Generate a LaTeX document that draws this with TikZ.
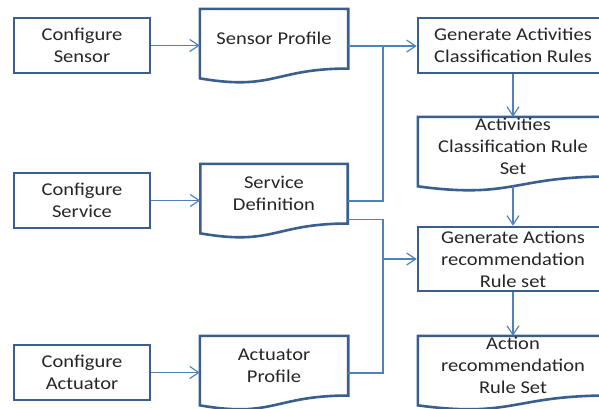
\documentclass[tikz,border=0pt]{standalone}
\usepackage{fontspec}
\setmainfont{Carlito}[FakeStretch=1.14]
\usetikzlibrary{arrows.meta,calc}
\definecolor{boxblue}{HTML}{3A5F8D}
\definecolor{linkblue}{HTML}{4F81BD}
\tikzset{
  boxline/.style={draw=boxblue,line width=2.6pt,line join=miter},
  proc/.style={boxline,fill=white,rectangle,inner sep=0pt,align=center,
    minimum width=136pt,minimum height=55pt},
  docarea/.style={rectangle,inner sep=0pt,align=center,minimum height=59.3pt},
  doctext/.style={align=center,inner sep=0pt},
  conn/.style={draw=linkblue,line width=1.2pt},
  flow/.style={conn,-{Straight Barb[length=9pt,width=12pt,line width=1.2pt]}},
}
% document outline: flat top, wavy bottom under the text area of node #1
\newcommand\docoutline[1]{%
  \draw[boxline,fill=white] (#1.north west) -- (#1.north east) -- (#1.south east)
    .. controls (#1.south) and ($(#1.south)+(0,-22.6)$) .. ($(#1.south west)+(0,-9.8)$) -- cycle;}
\begin{document}
\begin{tikzpicture}[x=1pt,y=1pt,font=\fontsize{18}{22}\selectfont,text=black!85]
\useasboundingbox (0,0) rectangle (599,409);

% configuration steps
\node[proc] (cs)  at (82,363.5) {Configure\\Sensor};
\node[proc] (csv) at (82,208.5) {Configure\\Service};
\node[proc] (ca)  at (82,36.5)  {Configure\\Actuator};

% documents produced by configuration
\node[docarea,minimum width=148pt] (sp) at (274,370.3) {};
\node[docarea,minimum width=147pt] (sd) at (274,215.3) {};
\node[docarea,minimum width=148pt] (ap) at (274,43.3)  {};
\docoutline{sp}\docoutline{sd}\docoutline{ap}
\node[doctext] (sp-t) at (sp) {Sensor Profile};
\node[doctext] (sd-t) at (sd) {Service\\Definition};
\node[doctext] (ap-t) at (ap) {Actuator\\Profile};

% rule generation column
\node[proc,minimum width=190pt] (ga) at (513,363.5) {Generate Activities\\Classification Rules};
\node[docarea,minimum width=190pt] (acr) at (513,262.3) {};
\docoutline{acr}
\node[doctext] (acr-t) at (acr) {Activities\\Classification Rule\\Set};
\node[proc,minimum width=190pt,minimum height=64pt] (gar) at (513,150) {Generate Actions\\recommendation\\Rule set};
\node[docarea,minimum width=190pt] (arr) at (513,43.3) {};
\docoutline{arr}
\node[doctext] (arr-t) at (arr) {Action\\recommendation\\Rule Set};

% connection points on the documents
\coordinate (sp-r)  at ($(sp.east)+(0,-7.4)$);
\coordinate (sd-r)  at ($(sd.east)+(0,-7.4)$);
\coordinate (sd-r2) at ($(sd.south east)+(0,4.3)$);
\coordinate (ap-r)  at ($(ap.east)+(0,-7.4)$);
\coordinate (acr-b) at ($(acr.south)+(0,-9.7)$);
\coordinate (bus) at (383,0);

% configuration -> documents
\draw[flow] (cs.east) -- (cs.east -| sp.west);
\draw[flow] (csv.east) -- (csv.east -| sd.west);
\draw[flow] (ca.east) -- (ca.east -| ap.west);

% documents -> rule generation
\draw[flow] (sp-r) -- (ga.west |- sp-r);
\draw[conn] (sd-r) -- (bus |- sd-r) -- (bus |- sp-r);
\draw[conn] (sd-r2) -- (bus |- sd-r2) -- (bus |- ap-r) -- (ap-r);
\draw[flow] (bus |- gar.west) -- (gar.west);

% rule generation column
\draw[flow] (ga.south) -- (acr.north);
\draw[flow] (acr-b) -- (gar.north);
\draw[flow] (gar.south) -- (arr.north);
\end{tikzpicture}
\end{document}
